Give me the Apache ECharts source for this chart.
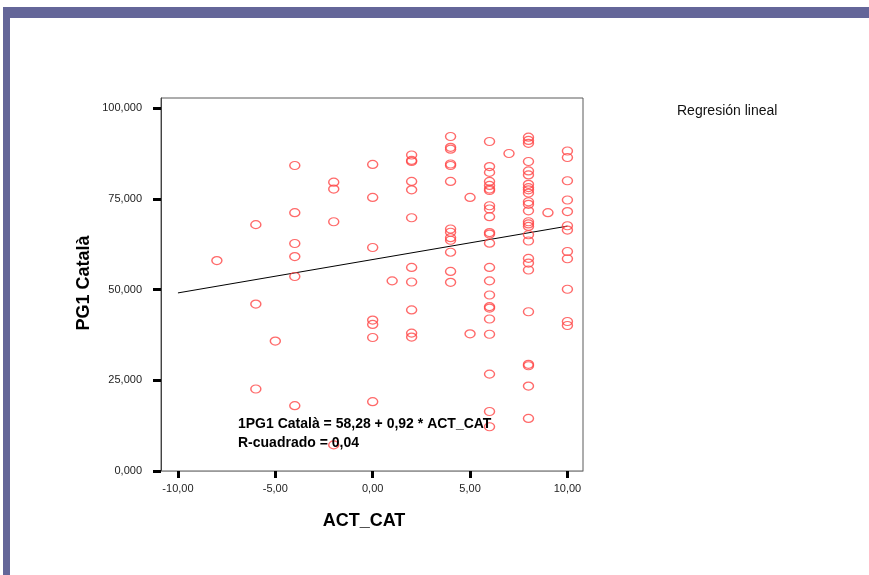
<!DOCTYPE html>
<html>
<head>
<meta charset="utf-8">
<script src="https://cdn.jsdelivr.net/npm/echarts@6/dist/echarts.min.js"></script>
<style>
  html, body { margin: 0; padding: 0; background: #ffffff; }
  #chart { width: 869px; height: 575px; }
</style>
</head>
<body>
<div id="chart"></div>
<script>
// ACT_CAT values and matching PG1 Català scores, one entry per respondent
const actCat = [
  -8,
  -6, -6, -6,
  -5,
  -4, -4, -4, -4, -4, -4,
  -2, -2, -2, -2,
  0, 0, 0, 0, 0, 0, 0,
  1,
  2, 2, 2, 2, 2, 2, 2, 2, 2, 2, 2,
  4, 4, 4, 4, 4, 4, 4, 4, 4, 4, 4, 4, 4,
  5, 5,
  6, 6, 6, 6, 6, 6, 6, 6, 6, 6, 6, 6, 6, 6, 6, 6, 6, 6, 6, 6, 6, 6, 6,
  7,
  8, 8, 8, 8, 8, 8, 8, 8, 8, 8, 8, 8, 8, 8, 8, 8, 8, 8, 8, 8, 8, 8, 8, 8, 8, 8,
  9,
  10, 10, 10, 10, 10, 10, 10, 10, 10, 10, 10, 10
];
const pg1Catala = [
  58.0,
  67.9, 46.0, 22.6,
  35.8,
  84.2, 71.2, 62.7, 59.1, 53.6, 18.0,
  79.6, 77.7, 68.7, 7.2,
  84.5, 75.4, 61.6, 41.6, 40.4, 36.8, 19.1,
  52.4,
  87.1, 85.6, 85.3, 79.8, 77.5, 69.8, 56.1, 52.1, 44.4, 38.0, 36.9,
  92.2, 89.2, 88.7, 84.6, 84.2, 79.8, 66.7, 65.8, 64.3, 63.6, 60.3, 55.0, 52.0,
  75.4, 37.8,
  90.8, 83.9, 82.3, 79.8, 78.7, 77.7, 77.3, 73.1, 72.2, 70.1, 65.7, 65.3, 62.8, 56.1, 52.4, 48.5, 45.3, 44.9, 41.9, 37.7, 26.7, 16.4, 12.2,
  87.5,
  92.0, 91.1, 90.3, 85.3, 82.7, 81.6, 79.0, 78.1, 77.5, 76.6, 74.2, 73.5, 71.7, 68.7, 68.1, 67.4, 65.1, 63.4, 58.6, 57.3, 55.4, 43.9, 29.4, 29.0, 23.4, 14.5,
  71.2,
  88.2, 86.4, 80.0, 74.7, 71.5, 67.6, 66.4, 60.5, 58.5, 50.1, 41.2, 40.1
];

// Fitted linear regression: PG1 Català = 58,28 + 0,92 * ACT_CAT
const fitIntercept = 58.28;
const fitSlope = 0.92;
const rSquared = 0.04;
const fitRange = [-10, 10];

// Tick positions on both axes
const xTicks = [-10, -5, 0, 5, 10];
const yTicks = [0, 25, 50, 75, 100];

const comma = (v, d) => v.toFixed(d).replace('.', ',');

const points = actCat.map((x, i) => [x, pg1Catala[i]]);
const fitLine = fitRange.map(x => [x, fitIntercept + fitSlope * x]);

const chart = echarts.init(document.getElementById('chart'), null, { renderer: 'canvas' });

// hollow ellipse marker
const ellipse = 'path://M0,4A5,4 0 1,1 10,4A5,4 0 1,1 0,4Z';

chart.setOption({
  animation: false,
  backgroundColor: '#ffffff',
  grid: {
    left: 161, top: 98, width: 422, height: 373,
    show: true, borderColor: '#5a5a5a', borderWidth: 1,
    backgroundColor: 'transparent'
  },
  xAxis: {
    type: 'value',
    min: -10.87, max: 10.8,
    splitLine: { show: false },
    axisLine: { show: true, onZero: false, lineStyle: { color: '#9a9a9a', width: 1 } },
    axisTick: { show: true, customValues: xTicks, length: 7, lineStyle: { color: '#000', width: 3 } },
    axisLabel: {
      customValues: xTicks, margin: 12,
      formatter: v => comma(v, 2),
      fontFamily: 'Liberation Sans, Arial, sans-serif', fontSize: 11, color: '#222'
    }
  },
  yAxis: {
    type: 'value',
    min: 0, max: 102.8,
    splitLine: { show: false },
    axisLine: { show: true, onZero: false, lineStyle: { color: '#444', width: 1 } },
    axisTick: { show: true, customValues: yTicks, length: 8, lineStyle: { color: '#000', width: 3 } },
    axisLabel: {
      customValues: yTicks, margin: 19,
      formatter: v => comma(v, 3),
      fontFamily: 'Liberation Sans, Arial, sans-serif', fontSize: 11, color: '#222'
    }
  },
  series: [
    {
      type: 'line',
      data: fitLine,
      symbol: 'none',
      silent: true,
      lineStyle: { color: '#000', width: 1 },
      z: 2
    },
    {
      type: 'scatter',
      data: points,
      symbol: ellipse,
      symbolSize: [10, 8],
      itemStyle: { color: 'rgba(255,255,255,0)', borderColor: '#ff4545', borderWidth: 1.3 },
      silent: true,
      z: 3
    }
  ],
  graphic: [
    // slide frame
    { type: 'rect', shape: { x: 3, y: 7, width: 866, height: 11 }, style: { fill: '#646699' }, silent: true },
    { type: 'rect', shape: { x: 3, y: 7, width: 7, height: 568 }, style: { fill: '#646699' }, silent: true },
    // axis titles
    {
      type: 'text', x: 364, y: 521,
      style: { text: 'ACT_CAT', font: 'bold 18px Liberation Sans, Arial, sans-serif', fill: '#000', align: 'center', verticalAlign: 'middle' },
      silent: true
    },
    {
      type: 'text', x: 84, y: 283, rotation: Math.PI / 2,
      style: { text: 'PG1 Català', font: 'bold 18px Liberation Sans, Arial, sans-serif', fill: '#000', align: 'center', verticalAlign: 'middle' },
      silent: true
    },
    // fit annotation
    {
      type: 'text', x: 238, y: 424,
      style: { text: '1PG1 Català = ' + comma(fitIntercept, 2) + ' + ' + comma(fitSlope, 2) + ' * ACT_CAT', font: 'bold 14px Liberation Sans, Arial, sans-serif', fill: '#000', align: 'left', verticalAlign: 'middle' },
      silent: true, z: 10
    },
    {
      type: 'text', x: 238, y: 443,
      style: { text: 'R-cuadrado = ' + comma(rSquared, 2), font: 'bold 14px Liberation Sans, Arial, sans-serif', fill: '#000', align: 'left', verticalAlign: 'middle' },
      silent: true, z: 10
    },
    // legend caption
    {
      type: 'text', x: 677, y: 111,
      style: { text: 'Regresión lineal', font: '14px Liberation Sans, Arial, sans-serif', fill: '#111', align: 'left', verticalAlign: 'middle' },
      silent: true
    }
  ]
});
</script>
</body>
</html>
